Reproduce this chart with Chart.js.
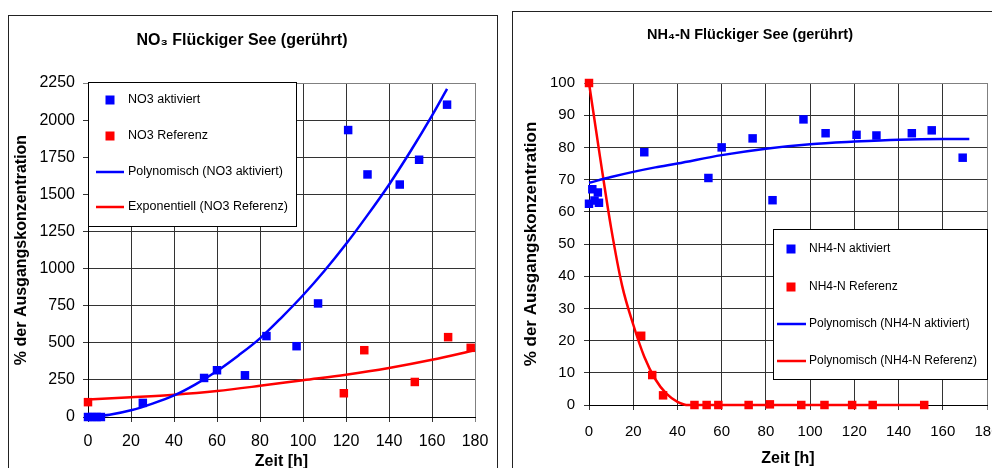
<!DOCTYPE html>
<html>
<head>
<meta charset="utf-8">
<script src="https://cdn.jsdelivr.net/npm/chart.js@4.4.1/dist/chart.umd.min.js"></script>
<style>
  html, body { margin: 0; padding: 0; background: #fff; }
  body { width: 992px; height: 468px; overflow: hidden; position: relative; }
  .panel { position: absolute; border: 1px solid #222; background: #fff; }
  #pLeft { left: 8px; top: 15px; width: 488px; height: 470px; }
  #pRight { left: 512px; top: 11px; width: 490px; height: 470px; }
  .panel canvas { display: block; }
</style>
</head>
<body>
<div class="panel" id="pLeft"><canvas id="chartNO3" width="488" height="470" style="width:488px;height:470px"></canvas></div>
<div class="panel" id="pRight"><canvas id="chartNH4" width="490" height="470" style="width:490px;height:470px"></canvas></div>
<script>
/* NO3 / NH4-N Flückiger See (gerührt) - two Excel style scatter charts */

// ---- NO3 (left) ----
const no3AktTime = [0, 2, 4, 6, 25.5, 54, 60, 73, 83, 97, 107, 121, 130, 145, 154, 167];
const no3AktVal  = [0, 0, 0, 0, 95, 263, 315, 281, 545, 477, 765, 1933, 1634, 1566, 1733, 2104];
const no3RefTime = [0, 119, 128.5, 152, 167.5, 178];
const no3RefVal  = [100, 160, 450, 236, 538, 466];
// trend lines
const no3PolyTime = [0, 10, 20, 30, 40, 50, 60, 70, 80, 90, 100, 110, 120, 130, 140, 150, 160, 167];
const no3PolyVal  = [0, 15, 45, 90, 145, 220, 310, 415, 530, 670, 820, 985, 1165, 1360, 1565, 1790, 2030, 2210];
const no3ExpTime  = [0, 20, 40, 60, 80, 100, 120, 140, 160, 180];
const no3ExpVal   = [118, 133, 150, 175, 210, 248, 285, 330, 385, 450];
const no3Ticks    = [0, 250, 500, 750, 1000, 1250, 1500, 1750, 2000, 2250];

// ---- NH4-N (right) ----
const nh4AktTime = [0, 1.5, 2.5, 4, 4.5, 25, 54, 60, 74, 83, 97, 107, 121, 130, 146, 155, 169];
const nh4AktVal  = [62.5, 67, 63.5, 66, 62.8, 78.5, 70.5, 80, 82.8, 63.6, 88.7, 84.4, 83.9, 83.7, 84.4, 85.3, 76.8];
const nh4RefTime = [0, 23.6, 28.6, 33.5, 47.7, 53.2, 58.5, 72.2, 81.8, 96, 106.5, 119, 128.3, 151.6];
const nh4RefVal  = [100, 21.5, 9.3, 3, 0, 0, 0, 0, 0.2, 0, 0, 0, 0, 0];
const nh4PolyAktTime = [0, 10, 20, 30, 40, 60, 80, 100, 120, 140, 160, 172];
const nh4PolyAktVal  = [69, 70.8, 72.4, 73.8, 75, 77.6, 79.6, 81, 81.8, 82.4, 82.6, 82.6];
const nh4PolyRefTime = [0, 5, 10, 15, 20, 25, 30, 35, 40, 45, 60, 80, 100, 120, 140, 152];
const nh4PolyRefVal  = [100, 77, 55, 37, 25, 15, 8, 3.5, 1, 0, 0, 0, 0, 0, 0, 0];
const nh4Ticks = [0, 10, 20, 30, 40, 50, 60, 70, 80, 90, 100];

const xTicks = [0, 20, 40, 60, 80, 100, 120, 140, 160, 180];

Chart.defaults.font.family = "'Liberation Sans', Arial, sans-serif";
Chart.defaults.color = '#000';

const BLUE = '#0000ff', RED = '#ff0000';
const pts = (xs, ys) => xs.map((x, i) => ({ x: x, y: ys[i] }));

function markerSet(label, xs, ys, col) {
    return { label, data: pts(xs, ys), showLine: false, pointStyle: 'rect', clip: false,
             pointRadius: 6, pointHoverRadius: 6, backgroundColor: col, borderColor: col, borderWidth: 0, order: 2 };
}
function trendSet(label, xs, ys, col) {
    return { label, data: pts(xs, ys), showLine: true, pointRadius: 0, borderColor: col, backgroundColor: col,
             borderWidth: 2.5, cubicInterpolationMode: 'monotone', fill: false, clip: false, order: 1 };
}

// boxed legend inside the plot, Excel style
const boxLegend = {
    id: 'boxLegend',
    afterDraw(chart, args, o) {
        const ctx = chart.ctx;
        ctx.save();
        ctx.fillStyle = '#fff'; ctx.strokeStyle = '#000'; ctx.lineWidth = 1;
        ctx.fillRect(o.x, o.y, o.w, o.h);
        ctx.strokeRect(o.x + 0.5, o.y + 0.5, o.w, o.h);
        ctx.font = o.fontSize + "px 'Liberation Sans', Arial, sans-serif";
        ctx.textBaseline = 'middle';
        chart.data.datasets.forEach((ds, i) => {
            const y = o.rows[i];
            ctx.fillStyle = ds.borderColor; ctx.strokeStyle = ds.borderColor;
            if (ds.showLine) {
                ctx.lineWidth = 2.5;
                ctx.beginPath(); ctx.moveTo(o.lineX0, y); ctx.lineTo(o.lineX1, y); ctx.stroke();
            } else {
                ctx.fillRect(o.markX - 4.5, y - 4.5, 9, 9);
            }
            ctx.fillStyle = '#000';
            ctx.fillText(ds.label, o.textX, y);
        });
        ctx.restore();
    }
};

function makeChart(id, cfg) {
    const yMax = cfg.yTicks[cfg.yTicks.length - 1];
    const gridCol = max => c => (c.tick && c.tick.value === max) ? '#808080' : '#333';
    return new Chart(document.getElementById(id), {
        type: 'scatter',
        data: { datasets: cfg.datasets },
        plugins: [boxLegend],
        options: {
            responsive: false, animation: false, devicePixelRatio: 1,
            layout: { padding: { left: 0, top: 0, right: cfg.padRight, bottom: 0 } },
            plugins: {
                legend: { display: false },
                tooltip: { enabled: false },
                title: { display: true, text: cfg.title, color: '#000',
                         font: { size: cfg.titleSize, weight: 'bold' },
                         padding: { top: cfg.titleTop, bottom: cfg.titleBottom } },
                boxLegend: cfg.legend
            },
            scales: {
                x: {
                    type: 'linear', min: 0, max: 180,
                    afterBuildTicks: s => { s.ticks = xTicks.map(v => ({ value: v })); },
                    afterFit: s => { s.height = cfg.xHeight; s.paddingLeft = 0; s.paddingRight = 0; },
                    grid: { color: gridCol(180), lineWidth: 1, tickLength: 5, drawTicks: true },
                    border: { color: '#000', width: 1 },
                    ticks: { font: { size: cfg.tickSize }, padding: cfg.xTickPad, maxRotation: 0, autoSkip: false,
                             callback: v => String(v) },
                    title: { display: true, text: 'Zeit [h]', font: { size: 16, weight: 'bold' },
                             padding: { top: 0, bottom: cfg.xTitlePad } }
                },
                y: {
                    type: 'linear', min: 0, max: yMax,
                    afterBuildTicks: s => { s.ticks = cfg.yTicks.map(v => ({ value: v })); },
                    afterFit: s => { s.width = cfg.yWidth; s.paddingTop = 0; s.paddingBottom = 0; },
                    grid: { color: gridCol(yMax), lineWidth: 1, tickLength: 5, drawTicks: true },
                    border: { color: '#000', width: 1 },
                    ticks: { font: { size: cfg.tickSize }, padding: cfg.yTickPad, autoSkip: false,
                             callback: v => String(v) },
                    title: { display: true, text: '% der Ausgangskonzentration',
                             font: { size: cfg.yTitleSize, weight: 'bold' },
                             padding: { top: cfg.yTitlePad, bottom: 0 } }
                }
            }
        }
    });
}

makeChart('chartNO3', {
    title: 'NO\u2083 Flückiger See (gerührt)', titleSize: 16, titleTop: 15.4, titleBottom: 32.4,
    padRight: 22, xHeight: 69, yWidth: 79, tickSize: 16, xTickPad: 10.4, yTickPad: 8,
    xTitlePad: 14.4, yTitleSize: 16, yTitlePad: 3,
    yTicks: no3Ticks,
    datasets: [
        markerSet('NO3 aktiviert', no3AktTime, no3AktVal, BLUE),
        markerSet('NO3 Referenz', no3RefTime, no3RefVal, RED),
        trendSet('Polynomisch (NO3 aktiviert)', no3PolyTime, no3PolyVal, BLUE),
        trendSet('Exponentiell (NO3 Referenz)', no3ExpTime, no3ExpVal, RED)
    ],
    legend: { x: 79, y: 66, w: 208, h: 144, rows: [84, 120, 156, 191],
              markX: 101, lineX0: 87, lineX1: 115, textX: 119, fontSize: 12.5 }
});

makeChart('chartNH4', {
    title: 'NH\u2084-N Flückiger See (gerührt)', titleSize: 14.5, titleTop: 14.3, titleBottom: 39.3,
    padRight: 16, xHeight: 77, yWidth: 76, tickSize: 15, xTickPad: 13, yTickPad: 9,
    xTitlePad: 13.4, yTitleSize: 17, yTitlePad: 8.5,
    yTicks: nh4Ticks,
    datasets: [
        markerSet('NH4-N aktiviert', nh4AktTime, nh4AktVal, BLUE),
        markerSet('NH4-N Referenz', nh4RefTime, nh4RefVal, RED),
        trendSet('Polynomisch (NH4-N aktiviert)', nh4PolyAktTime, nh4PolyAktVal, BLUE),
        trendSet('Polynomisch (NH4-N Referenz)', nh4PolyRefTime, nh4PolyRefVal, RED)
    ],
    legend: { x: 260, y: 217, w: 214, h: 150, rows: [237, 275, 312, 349],
              markX: 278, lineX0: 264, lineX1: 293, textX: 296, fontSize: 12 }
});
</script>
</body>
</html>
